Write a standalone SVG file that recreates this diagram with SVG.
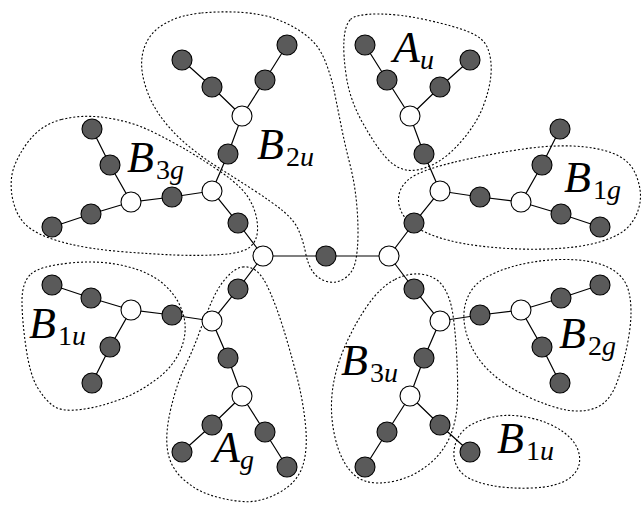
<svg xmlns="http://www.w3.org/2000/svg" width="642" height="505" viewBox="0 0 642 505">
<style>
.g{fill:#5a5a5a;stroke:#000;stroke-width:1.1}
.w{fill:#fff;stroke:#000;stroke-width:1.1}
.e{stroke:#000;stroke-width:1.2;fill:none}
.b{fill:none;stroke:#000;stroke-width:1.1;stroke-dasharray:2 2}
.lab{font-family:"Liberation Serif","DejaVu Serif",serif;font-style:italic;font-size:44px;fill:#000}
.s{font-style:normal;font-size:28px}
.si{font-style:italic;font-size:28px}
</style>
<rect width="642" height="505" fill="#fff"/>
<g id="groups">
<path id="grp-B2u" class="b" d="M201.5,13 Q223,11 243,12.5 Q263,14 277.5,19.5 Q292,25 305,34.5 Q318,44 324.5,59.5 Q331,75 334.5,92.5 Q338,110 341.5,127.5 Q345,145 349.5,162.5 Q354,180 356,197.5 Q358,215 358,232.5 Q358,250 355.5,261.5 Q353,273 344.5,278.5 Q336,284 327,281.5 Q318,279 313,272 Q308,265 305.5,252.5 Q303,240 298.5,230 Q294,220 283,211 Q272,202 253.5,190 Q235,178 217.5,167 Q200,156 185,143 Q170,130 159.5,115 Q149,100 144,81 Q139,62 144.5,47 Q150,32 165,23.5 Q180,15 201.5,13 Z"/>
<path id="grp-B3g" class="b" d="M61.5,119.5 Q83,114 108,118 Q133,122 153,132 Q173,142 186.5,150 Q200,158 216.5,169 Q233,180 241.5,189 Q250,198 254,209 Q258,220 257.5,230.5 Q257,241 250,247 Q243,253 221.5,254.5 Q200,256 175,255 Q150,254 120,251.5 Q90,249 67.5,243.5 Q45,238 32.5,230 Q20,222 15,207.5 Q10,193 11.5,178 Q13,163 26.5,144 Q40,125 61.5,119.5 Z"/>
<path id="grp-Au" class="b" d="M350.5,19.5 Q356,14 378,14 Q400,14 427,20 Q454,26 469,32 Q484,38 488,49 Q492,60 491,74 Q490,88 483.5,105.5 Q477,123 462,140.5 Q447,158 432,165 Q417,172 406,170 Q395,168 385,156.5 Q375,145 362.5,122.5 Q350,100 346.5,77.5 Q343,55 344,40 Q345,25 350.5,19.5 Z"/>
<path id="grp-B1g" class="b" d="M455,162 Q480,156 513.5,150.5 Q547,145 572,146 Q597,147 613.5,153.5 Q630,160 636,175 Q642,190 640,202.5 Q638,215 630,225 Q622,235 601,241.5 Q580,248 546.5,249 Q513,250 480,246 Q447,242 427,233 Q407,224 401.5,212 Q396,200 400.5,190 Q405,180 417.5,174 Q430,168 455,162 Z"/>
<path id="grp-B1u-left" class="b" d="M31,274 Q40,266 70,263 Q100,260 125,266 Q150,272 164,284.5 Q178,297 183,313.5 Q188,330 181.5,347.5 Q175,365 157.5,378.5 Q140,392 120,399.5 Q100,407 81,409.5 Q62,412 53.5,406 Q45,400 37.5,387.5 Q30,375 26,347.5 Q22,320 22,301 Q22,282 31,274 Z"/>
<path id="grp-Ag" class="b" d="M242.5,267 Q250,266 256.5,271 Q263,276 270,292 Q277,308 283.5,329 Q290,350 296.5,375 Q303,400 305.5,425 Q308,450 302.5,466.5 Q297,483 278.5,493 Q260,503 242.5,501.5 Q225,500 210,495 Q195,490 182.5,478.5 Q170,467 167.5,450 Q165,433 171,408 Q177,383 185,366.5 Q193,350 199,333.5 Q205,317 211.5,302 Q218,287 226.5,277.5 Q235,268 242.5,267 Z"/>
<path id="grp-B3u" class="b" d="M395,279.5 Q410,272 423.5,274.5 Q437,277 443.5,287 Q450,297 452.5,312 Q455,327 456.5,352 Q458,377 457.5,398.5 Q457,420 450,436.5 Q443,453 428,465 Q413,477 395,481 Q377,485 365,481 Q353,477 345,463.5 Q337,450 333.5,430 Q330,410 332.5,390 Q335,370 344,348.5 Q353,327 366.5,307 Q380,287 395,279.5 Z"/>
<path id="grp-B2g" class="b" d="M508,268 Q533,260 561.5,259.5 Q590,259 607.5,267 Q625,275 629,292.5 Q633,310 629,335 Q625,360 617.5,381 Q610,402 596.5,407.5 Q583,413 566.5,410 Q550,407 528.5,397 Q507,387 492,373.5 Q477,360 470,343.5 Q463,327 464,312.5 Q465,298 474,287 Q483,276 508,268 Z"/>
<path id="grp-B1u-right" class="b" d="M488.5,418 Q507,413 528.5,417.5 Q550,422 564,432.5 Q578,443 579.5,456.5 Q581,470 569,478.5 Q557,487 532,488 Q507,489 487,484.5 Q467,480 460,471 Q453,462 454,451 Q455,440 462.5,431.5 Q470,423 488.5,418 Z"/>
</g>
<g id="connectors" class="e">
<path d="M263,256 H389"/>
<path d="M263,256 L238,223 L212,191 L228,154 L242,116 L212,87 L182,60 M242,116 L265,80 L287,45 M212,191 L172,197 L131,202 L110,165 L92,129 M131,202 L91,214 L52,227"/>
<path d="M389,256 L414,223 L440,191 L424,154 L410,116 L440,87 L470,60 M410,116 L387,80 L365,45 M440,191 L480,197 L521,202 L542,165 L560,129 M521,202 L561,214 L600,227"/>
<path d="M263,256 L238,289 L212,321 L228,358 L242,396 L212,425 L182,452 M242,396 L265,432 L287,467 M212,321 L172,315 L131,310 L110,347 L92,383 M131,310 L91,298 L52,285"/>
<path d="M389,256 L414,289 L440,321 L424,358 L410,396 L440,425 L470,452 M410,396 L387,432 L365,467 M440,321 L480,315 L521,310 L542,347 L560,383 M521,310 L561,298 L600,285"/>
</g>
<g id="n-c1"><circle class="w" cx="263" cy="256" r="10"/></g>
<g id="n-c2"><circle class="g" cx="326" cy="256" r="10"/></g>
<g id="n-c3"><circle class="w" cx="389" cy="256" r="10"/></g>
<g id="n-tl1"><circle class="g" cx="238" cy="223" r="10"/></g>
<g id="n-tl2"><circle class="w" cx="212" cy="191" r="10"/></g>
<g id="n-tl3"><circle class="g" cx="228" cy="154" r="10"/></g>
<g id="n-tl4"><circle class="w" cx="242" cy="116" r="10"/></g>
<g id="n-tl5"><circle class="g" cx="212" cy="87" r="10"/></g>
<g id="n-tl6"><circle class="g" cx="182" cy="60" r="10"/></g>
<g id="n-tl7"><circle class="g" cx="265" cy="80" r="10"/></g>
<g id="n-tl8"><circle class="g" cx="287" cy="45" r="10"/></g>
<g id="n-tl9"><circle class="g" cx="172" cy="197" r="10"/></g>
<g id="n-tl10"><circle class="w" cx="131" cy="202" r="10"/></g>
<g id="n-tl11"><circle class="g" cx="110" cy="165" r="10"/></g>
<g id="n-tl12"><circle class="g" cx="92" cy="129" r="10"/></g>
<g id="n-tl13"><circle class="g" cx="91" cy="214" r="10"/></g>
<g id="n-tl14"><circle class="g" cx="52" cy="227" r="10"/></g>
<g id="n-tr1"><circle class="g" cx="414" cy="223" r="10"/></g>
<g id="n-tr2"><circle class="w" cx="440" cy="191" r="10"/></g>
<g id="n-tr3"><circle class="g" cx="424" cy="154" r="10"/></g>
<g id="n-tr4"><circle class="w" cx="410" cy="116" r="10"/></g>
<g id="n-tr5"><circle class="g" cx="440" cy="87" r="10"/></g>
<g id="n-tr6"><circle class="g" cx="470" cy="60" r="10"/></g>
<g id="n-tr7"><circle class="g" cx="387" cy="80" r="10"/></g>
<g id="n-tr8"><circle class="g" cx="365" cy="45" r="10"/></g>
<g id="n-tr9"><circle class="g" cx="480" cy="197" r="10"/></g>
<g id="n-tr10"><circle class="w" cx="521" cy="202" r="10"/></g>
<g id="n-tr11"><circle class="g" cx="542" cy="165" r="10"/></g>
<g id="n-tr12"><circle class="g" cx="560" cy="129" r="10"/></g>
<g id="n-tr13"><circle class="g" cx="561" cy="214" r="10"/></g>
<g id="n-tr14"><circle class="g" cx="600" cy="227" r="10"/></g>
<g id="n-bl1"><circle class="g" cx="238" cy="289" r="10"/></g>
<g id="n-bl2"><circle class="w" cx="212" cy="321" r="10"/></g>
<g id="n-bl3"><circle class="g" cx="228" cy="358" r="10"/></g>
<g id="n-bl4"><circle class="w" cx="242" cy="396" r="10"/></g>
<g id="n-bl5"><circle class="g" cx="212" cy="425" r="10"/></g>
<g id="n-bl6"><circle class="g" cx="182" cy="452" r="10"/></g>
<g id="n-bl7"><circle class="g" cx="265" cy="432" r="10"/></g>
<g id="n-bl8"><circle class="g" cx="287" cy="467" r="10"/></g>
<g id="n-bl9"><circle class="g" cx="172" cy="315" r="10"/></g>
<g id="n-bl10"><circle class="w" cx="131" cy="310" r="10"/></g>
<g id="n-bl11"><circle class="g" cx="110" cy="347" r="10"/></g>
<g id="n-bl12"><circle class="g" cx="92" cy="383" r="10"/></g>
<g id="n-bl13"><circle class="g" cx="91" cy="298" r="10"/></g>
<g id="n-bl14"><circle class="g" cx="52" cy="285" r="10"/></g>
<g id="n-br1"><circle class="g" cx="414" cy="289" r="10"/></g>
<g id="n-br2"><circle class="w" cx="440" cy="321" r="10"/></g>
<g id="n-br3"><circle class="g" cx="424" cy="358" r="10"/></g>
<g id="n-br4"><circle class="w" cx="410" cy="396" r="10"/></g>
<g id="n-br5"><circle class="g" cx="440" cy="425" r="10"/></g>
<g id="n-br6"><circle class="g" cx="470" cy="452" r="10"/></g>
<g id="n-br7"><circle class="g" cx="387" cy="432" r="10"/></g>
<g id="n-br8"><circle class="g" cx="365" cy="467" r="10"/></g>
<g id="n-br9"><circle class="g" cx="480" cy="315" r="10"/></g>
<g id="n-br10"><circle class="w" cx="521" cy="310" r="10"/></g>
<g id="n-br11"><circle class="g" cx="542" cy="347" r="10"/></g>
<g id="n-br12"><circle class="g" cx="560" cy="383" r="10"/></g>
<g id="n-br13"><circle class="g" cx="561" cy="298" r="10"/></g>
<g id="n-br14"><circle class="g" cx="600" cy="285" r="10"/></g>
<g id="labels">
<text class="lab" x="257" y="159">B<tspan class="s" dx="2" dy="7">2</tspan><tspan class="si">u</tspan></text>
<text class="lab" x="127" y="172">B<tspan class="s" dx="2" dy="7">3</tspan><tspan class="si">g</tspan></text>
<text class="lab" x="393" y="62">A<tspan class="si" dx="0" dy="7">u</tspan></text>
<text class="lab" x="564" y="192">B<tspan class="s" dx="2" dy="7">1</tspan><tspan class="si">g</tspan></text>
<text class="lab" x="29" y="338">B<tspan class="s" dx="2" dy="7">1</tspan><tspan class="si">u</tspan></text>
<text class="lab" x="213" y="462">A<tspan class="si" dx="0" dy="7">g</tspan></text>
<text class="lab" x="341" y="375">B<tspan class="s" dx="2" dy="7">3</tspan><tspan class="si">u</tspan></text>
<text class="lab" x="559" y="348">B<tspan class="s" dx="2" dy="7">2</tspan><tspan class="si">g</tspan></text>
<text class="lab" x="497" y="453">B<tspan class="s" dx="2" dy="7">1</tspan><tspan class="si">u</tspan></text>
</g>
</svg>
